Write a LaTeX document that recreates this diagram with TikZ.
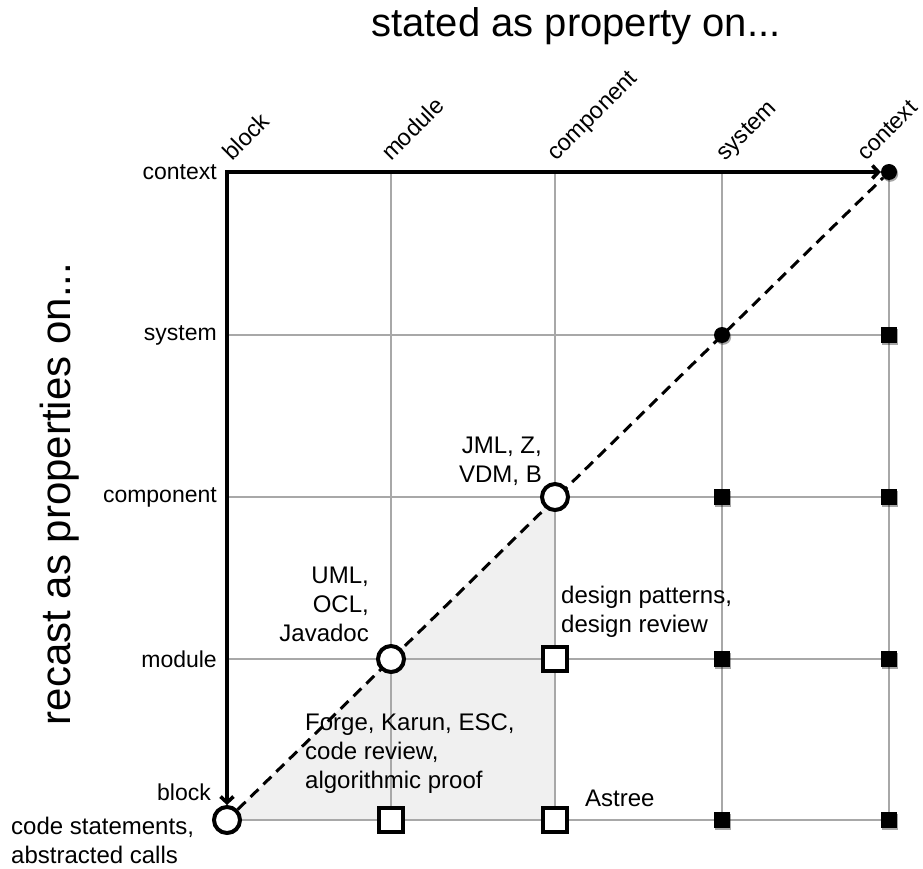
\documentclass[tikz,border=0pt]{standalone}
\usepackage{fontspec}
\setmainfont{Liberation Sans}
\usetikzlibrary{arrows.meta,shadows,backgrounds}
\definecolor{gridgray}{HTML}{A8A8A8}
\definecolor{trigray}{HTML}{F0F0F0}
\begin{document}
\begin{tikzpicture}[x=1pt,y=-1pt,
  myshadow/.style={drop shadow={shadow xshift=1.2pt,shadow yshift=-1.8pt,opacity=0.35,fill=black}},
  bigcircle/.style={circle,draw=black,fill=white,line width=4pt,minimum size=26pt,inner sep=0pt,myshadow},
  opensq/.style={rectangle,draw=black,fill=white,line width=4pt,minimum size=24pt,inner sep=0pt,myshadow},
  smallsq/.style={rectangle,fill=black,minimum size=16pt,inner sep=0pt,myshadow},
  smalldot/.style={circle,fill=black,minimum size=16pt,inner sep=0pt,myshadow},
  gridline/.style={draw=gridgray,line width=1.2pt},
  diag/.style={line width=3pt,dash pattern=on 11pt off 7pt},
  axis/.style={line width=3.6pt,arrows={Straight Barb[length=6pt,width=13pt]-Straight Barb[length=6pt,width=13pt]}},
  annot/.style={font=\fontsize{24}{29}\selectfont,inner sep=0pt},
  axlab/.style={font=\fontsize{23}{28}\selectfont,inner sep=0pt},
  toplab/.style={font=\fontsize{23.5}{28}\selectfont,inner sep=0pt,rotate=45,anchor=base west}]
\useasboundingbox (0,0) rectangle (923,869);

% markers
\node[bigcircle] (bb) at (227,820) {};
\node[opensq]    (mb) at (391,820) {};
\node[opensq]    (cb) at (555,820) {};
\node[smallsq]   (sb) at (722,820) {};
\node[smallsq]   (xb) at (889,820) {};
\node[bigcircle] (mm) at (391,659) {};
\node[opensq]    (cm) at (555,659) {};
\node[smallsq]   (sm) at (722,659) {};
\node[smallsq]   (xm) at (889,659) {};
\node[bigcircle] (cc) at (555,497) {};
\node[smallsq]   (sc) at (722,497) {};
\node[smallsq]   (xc) at (889,497) {};
\node[smalldot]  (ss) at (722,335) {};
\node[smallsq]   (xs) at (889,335) {};
\node[smalldot]  (xx) at (889,172) {};

\begin{scope}[on background layer]
  \fill[trigray] (bb.center) -- (cc.center) -- (cb.center) -- cycle;
  \foreach \y in {172,335,497,659,820} \draw[gridline] (227,\y) -- (889,\y);
  \foreach \x in {227,391,555,722,889} \draw[gridline] (\x,172) -- (\x,820);
  \draw[diag] (bb) -- (xx);
  \draw[axis] (bb) |- (xx);
\end{scope}

% titles
\node[font=\fontsize{40}{48}\selectfont,anchor=base,inner sep=0pt] (title) at (576,37) {stated as property on...};
\node[font=\fontsize{42}{50}\selectfont,rotate=90,anchor=base,inner sep=0pt] (vtitle) at (70,494) {recast as properties on...};

% row labels
\node[axlab,anchor=east] (rctx) at (217,172) {context};
\node[axlab,anchor=east] (rsys) at (217,335) {system};
\node[axlab,anchor=east] (rcmp) at (217,497) {component};
\node[axlab,anchor=east] (rmod) at (217,659) {module};
\node[axlab,anchor=east] (rblk) at (211,792) {block};

% column labels
\node[toplab] (cblk) at (232,162) {block};
\node[toplab] (cmod) at (391,162) {module};
\node[toplab] (ccmp) at (556,162) {component};
\node[toplab] (csys) at (725,162) {system};
\node[toplab,font=\fontsize{23}{28}\selectfont] (cctx) at (866,162) {context};

% annotations
\node[annot,align=right,anchor=north east] (uml) at (369,567) {UML,\\OCL,\\Javadoc};
\node[annot,align=right,anchor=north east] (jml) at (542,437) {JML, Z,\\VDM, B};
\node[annot,align=left,anchor=north west] (dp) at (561,586) {design patterns,\\design review};
\node[annot,align=left,anchor=north west] (forge) at (305,714) {Forge, Karun, ESC,\\code review,\\algorithmic proof};
\node[annot,anchor=north west] (astree) at (585,790) {Astree};
\node[annot,align=left,anchor=north west] (code) at (11,817) {code statements,\\abstracted calls};
\end{tikzpicture}
\end{document}
